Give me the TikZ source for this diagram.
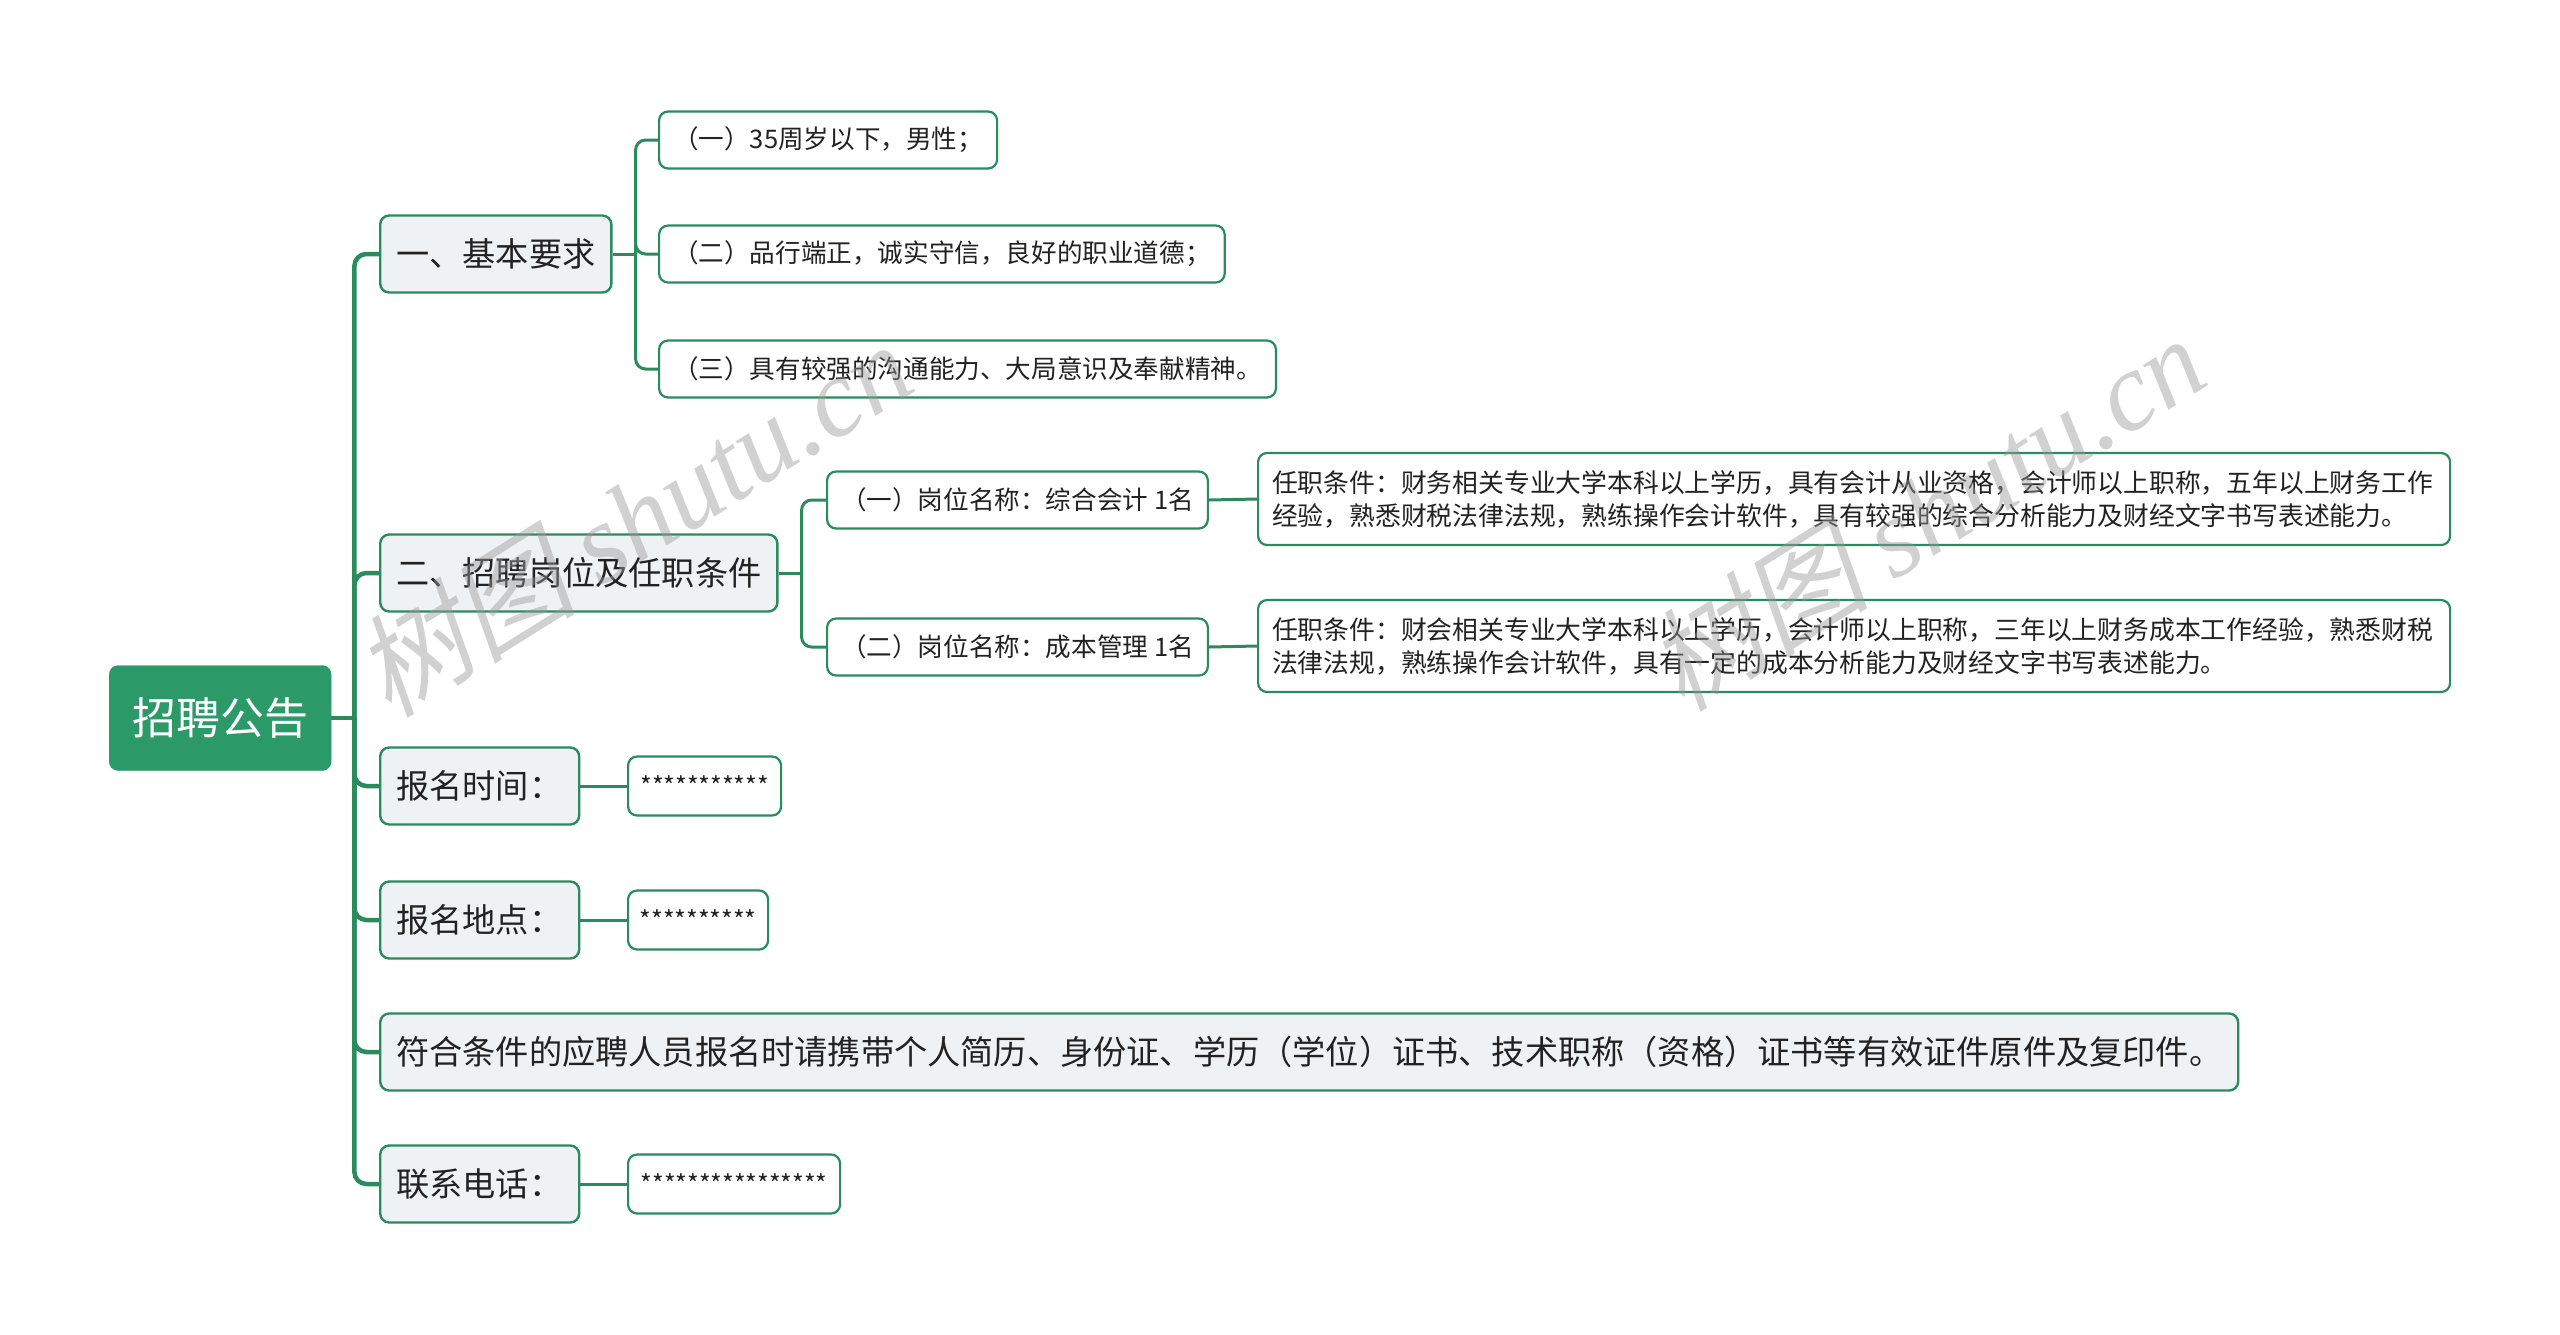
\documentclass[tikz,border=0pt]{standalone}
\usepackage{fontspec}
\setmainfont{Noto Sans CJK SC}
\newfontfamily\wmlatin{Liberation Serif}
\newfontfamily\wmcjk{Noto Sans CJK SC}[FakeSlant=0.22]
\usetikzlibrary{calc}
\definecolor{rootGreen}{HTML}{2C9A68}
\definecolor{lineGreen}{HTML}{2A8B5C}
\definecolor{topicBg}{HTML}{EEF2F5}
\definecolor{inkDark}{HTML}{222222}
\definecolor{markGray}{HTML}{9A9A9A}

\begin{document}
\begin{tikzpicture}[x=1pt, y=-1pt,
    rootbox/.style={fill=rootGreen, draw=rootGreen, rounded corners=9pt, text=white,
        font=\fontsize{44}{52}\selectfont, minimum height=105pt, minimum width=222pt, anchor=west},
    topic/.style={fill=topicBg, draw=lineGreen, line width=2.4pt, rounded corners=9pt, text=inkDark,
        font=\fontsize{33.2}{40}\selectfont, minimum height=77pt, inner xsep=16pt, anchor=west},
    shorttopic/.style={topic, text width=167pt, align=left},
    subtopic/.style={fill=white, draw=lineGreen, line width=2.2pt, rounded corners=9pt, text=inkDark,
        font=\fontsize{25.6}{33}\selectfont, minimum height=57pt, inner xsep=14pt, anchor=west},
    detail/.style={subtopic, font=\fontsize{25.8}{33}\selectfont, minimum height=92pt,
        text width=1164pt, align=left},
    stars/.style={subtopic, font=\fontsize{25}{30}\selectfont, minimum height=59pt, inner xsep=8pt},
    trunk/.style={draw=lineGreen, line width=4.5pt, rounded corners=12pt},
    twig/.style={draw=lineGreen, line width=3pt, rounded corners=10pt},
    wm/.style={text=markGray, opacity=0.45, font=\fontsize{112}{120}\selectfont, rotate=32}
]
    \useasboundingbox (0,0) rectangle (2560,1334);

    \node[rootbox] (root) at (109,718) {招聘公告};

    \node[topic] (basic) at (379,254) {一、基本要求};
    \node[topic] (posts) at (379,573) {二、招聘岗位及任职条件};
    \node[shorttopic] (when) at (379,786) {报名时间：};
    \node[shorttopic] (where) at (379,920) {报名地点：};
    \node[topic] (bring) at (379,1052) {符合条件的应聘人员报名时请携带个人简历、身份证、学历（学位）证书、技术职称（资格）证书等有效证件原件及复印件。};
    \node[shorttopic] (phone) at (379,1184) {联系电话：};

    \node[subtopic] (ageReq) at (658,140) {（一）35周岁以下，男性；};
    \node[subtopic] (moralReq) at (658,254) {（二）品行端正，诚实守信，良好的职业道德；};
    \node[subtopic] (skillReq) at (658,369) {（三）具有较强的沟通能力、大局意识及奉献精神。};

    \node[subtopic] (postA) at (826,500) {（一）岗位名称：综合会计 1名};
    \node[subtopic] (postB) at (826,647) {（二）岗位名称：成本管理 1名};
    \node[detail] (condA) at (1257,499) {任职条件：财务相关专业大学本科以上学历，具有会计从业资格，会计师以上职称，五年以上财务工作\\经验，熟悉财税法律法规，熟练操作会计软件，具有较强的综合分析能力及财经文字书写表述能力。};
    \node[detail] (condB) at (1257,646) {任职条件：财会相关专业大学本科以上学历，会计师以上职称，三年以上财务成本工作经验，熟悉财税\\法律法规，熟练操作会计软件，具有一定的成本分析能力及财经文字书写表述能力。};

    \node[stars, minimum width=153pt] (whenVal) at (627,786) {***********};
    \node[stars, minimum width=140pt] (whereVal) at (627,920) {**********};
    \node[stars, minimum width=212pt] (phoneVal) at (627,1184) {****************};

    % connectors
    \coordinate (hub) at ($(root.east)+(23,0)$);
    \draw[trunk] (root.east) -- (hub);
    \foreach \n in {basic,posts,when,where,bring,phone}
        \draw[trunk] (hub) |- (\n.west);

    \coordinate (hubBasic) at ($(basic.east)+(23,0)$);
    \draw[twig] (basic.east) -- (hubBasic);
    \foreach \n in {ageReq,moralReq,skillReq}
        \draw[twig] (hubBasic) |- (\n.west);

    \coordinate (hubPosts) at ($(posts.east)+(23,0)$);
    \draw[twig] (posts.east) -- (hubPosts);
    \foreach \n in {postA,postB}
        \draw[twig] (hubPosts) |- (\n.west);

    \draw[twig] (postA.east) -- (condA.west);
    \draw[twig] (postB.east) -- (condB.west);
    \draw[twig] (when.east) -- (whenVal.west);
    \draw[twig] (where.east) -- (whereVal.west);
    \draw[twig] (phone.east) -- (phoneVal.west);

    % watermarks
    \node[wm] (markA) at (632,518) {{\wmcjk 树图} {\wmlatin\itshape shutu.cn}};
    \node[wm] (markB) at (1925,512) {{\wmcjk 树图} {\wmlatin\itshape shutu.cn}};
\end{tikzpicture}
\end{document}
